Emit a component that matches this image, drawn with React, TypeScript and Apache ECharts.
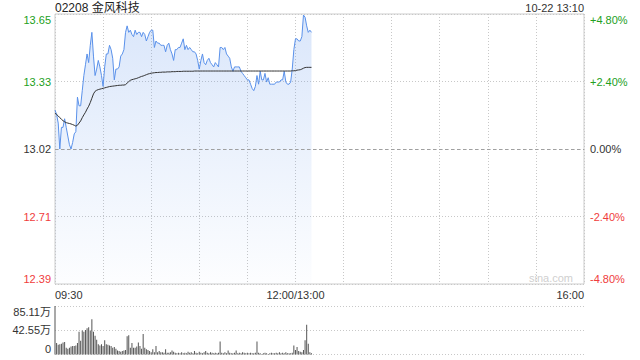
import React, { useEffect, useRef } from 'react';
import * as echarts from 'echarts';

const FONT = '"Liberation Sans", Arial, "Noto Sans CJK SC", sans-serif';

const stockTitle = '02208 金风科技';
const stampText = '10-22 13:10';
const preClose = 13.02;

// one value per minute from 09:30 (index 0) to 13:10 (index 160); 12:00 and 13:00 share index 150
const priceValues = [
  13.20, 13.18, 13.14, 13.02, 13.12, 13.12, 13.16, 13.12, 13.08, 13.04,
  13.02, 13.05, 13.09, 13.10, 13.26, 13.22, 13.22, 13.29, 13.36, 13.41,
  13.46, 13.42, 13.50, 13.56, 13.45, 13.36, 13.39, 13.43, 13.40, 13.36,
  13.31, 13.40, 13.46, 13.46, 13.50, 13.48, 13.44, 13.34, 13.39, 13.39,
  13.40, 13.45, 13.46, 13.48, 13.56, 13.59, 13.56, 13.57, 13.55, 13.54,
  13.57, 13.55, 13.56, 13.56, 13.54, 13.56, 13.55, 13.52, 13.54, 13.56,
  13.57, 13.57, 13.49, 13.52, 13.51, 13.51, 13.50, 13.50, 13.50, 13.47,
  13.50, 13.51, 13.48, 13.46, 13.43, 13.48, 13.48, 13.49, 13.49, 13.51,
  13.53, 13.48, 13.50, 13.48, 13.49, 13.48, 13.47, 13.47, 13.46, 13.43,
  13.39, 13.43, 13.46, 13.42, 13.41, 13.43, 13.44, 13.42, 13.41, 13.40,
  13.42, 13.41, 13.40, 13.49, 13.49, 13.48, 13.49, 13.46, 13.45, 13.44,
  13.40, 13.38, 13.40, 13.40, 13.40, 13.40, 13.38, 13.37, 13.36, 13.35,
  13.34, 13.34, 13.32, 13.30, 13.29, 13.31, 13.36, 13.32, 13.38, 13.34,
  13.34, 13.37, 13.33, 13.35, 13.32, 13.32, 13.32, 13.32, 13.33, 13.33,
  13.33, 13.34, 13.34, 13.38, 13.33, 13.32, 13.32, 13.33, 13.39, 13.48,
  13.53, 13.53, 13.52, 13.52, 13.54, 13.64, 13.63, 13.59, 13.56, 13.57, 13.56,
];

const avgValues = [
  13.185, 13.180, 13.173, 13.165, 13.158, 13.151, 13.146, 13.142, 13.140, 13.138,
  13.136, 13.133, 13.130, 13.126, 13.130, 13.140, 13.150, 13.165, 13.178, 13.190,
  13.205, 13.218, 13.235, 13.255, 13.275, 13.287, 13.292, 13.295, 13.297, 13.299,
  13.301, 13.303, 13.305, 13.307, 13.309, 13.310, 13.311, 13.312, 13.313, 13.314,
  13.315, 13.315, 13.316, 13.316, 13.318, 13.325, 13.332, 13.338, 13.341, 13.343,
  13.345, 13.347, 13.350, 13.353, 13.356, 13.358, 13.361, 13.364, 13.367, 13.369,
  13.371, 13.372, 13.373, 13.374, 13.374, 13.375, 13.375, 13.376, 13.376, 13.376,
  13.377, 13.377, 13.377, 13.378, 13.378, 13.378, 13.379, 13.379, 13.379, 13.379,
  13.380, 13.380, 13.380, 13.380, 13.380, 13.380, 13.380, 13.381, 13.381, 13.381,
  13.381, 13.381, 13.381, 13.381, 13.381, 13.381, 13.381, 13.381, 13.381, 13.381,
  13.381, 13.381, 13.381, 13.381, 13.381, 13.381, 13.381, 13.381, 13.381, 13.381,
  13.381, 13.381, 13.381, 13.381, 13.381, 13.381, 13.381, 13.381, 13.381, 13.381,
  13.381, 13.381, 13.381, 13.381, 13.381, 13.381, 13.381, 13.381, 13.381, 13.381,
  13.381, 13.381, 13.381, 13.381, 13.381, 13.381, 13.381, 13.381, 13.381, 13.381,
  13.381, 13.381, 13.381, 13.381, 13.381, 13.381, 13.381, 13.381, 13.382, 13.382,
  13.383, 13.385, 13.386, 13.387, 13.390, 13.394, 13.397, 13.398, 13.398, 13.398, 13.398,
];

// volume in 万 shares
const volumeValues = [
  85.11, 20, 17, 18, 19, 21, 22, 12, 10, 12,
  14, 15, 15, 16, 20, 40, 24, 42, 40, 43,
  46, 48, 42, 62, 40, 33, 26, 18, 16, 18,
  15, 25, 18, 17, 16, 15, 12, 13, 10, 7,
  6, 5, 6, 7, 8, 32, 34, 12, 20, 12,
  12, 14, 21, 15, 10, 36, 12, 9, 8, 6,
  4, 9, 4, 15, 4, 6, 4, 4, 3, 9,
  3, 3, 4, 7, 5, 3, 2, 3, 2, 4,
  2, 3, 2, 5, 3, 4, 2, 6, 3, 2,
  5, 3, 2, 4, 6, 3, 2, 4, 3, 2,
  3, 2, 3, 23, 3, 2, 4, 2, 7, 3,
  2, 2, 3, 7, 2, 3, 2, 4, 3, 2,
  3, 2, 3, 2, 2, 3, 23, 3, 2, 1,
  2, 3, 2, 1, 2, 3, 2, 2, 3, 2,
  4, 2, 3, 2, 4, 2, 2, 2, 3, 16,
  8, 13, 6, 5, 4, 8, 25, 52, 19, 4, 2,
];

const priceTickLabels = ['12.39', '12.71', '13.02', '13.33', '13.65'];
const pctTickLabels = ['-4.80%', '-2.40%', '0.00%', '+2.40%', '+4.80%'];
const volTickLabels = ['0', '42.55万', '85.11万'];
const timeTickPositions = [0, 150, 330];
const timeTickLabels = ['09:30', '12:00/13:00', '16:00'];

const GREEN = '#22a022';
const RED = '#f03c3c';
const DARK = '#333';

const pct = (p: number) => ((p - preClose) / preClose) * 100;
const pctIndex = (v: number) => Math.round((Number(v) + 4.8) / 2.4);
const labelColor = (v: any) => {
  const n = Number(v);
  if (n > 0.01) return GREEN;
  if (n < -0.01) return RED;
  return DARK;
};

export default function App() {
  const ref = useRef<HTMLDivElement>(null);
  useEffect(() => {
    const chart = echarts.init(ref.current!, null, { renderer: 'svg' });
    const dotted = { color: '#c8c8c8', type: [1, 2] as any, width: 1 };
    const option: any = {
      animation: false,
      textStyle: { fontFamily: FONT },
      grid: [
        { left: 55, right: 56, top: 14, height: 270, show: true, borderColor: '#ccc', borderWidth: 1 },
        { left: 55, right: 56, top: 306, height: 48.5, show: false },
      ],
      xAxis: [
        {
          type: 'value', gridIndex: 0, min: 0, max: 330, interval: 30,
          axisLine: { show: false }, axisTick: { show: false },
          splitLine: { show: true, lineStyle: dotted },
          axisLabel: {
            show: true, margin: 5, fontSize: 11, color: DARK, fontFamily: FONT,
            showMinLabel: true, showMaxLabel: true,
            alignMinLabel: 'left', alignMaxLabel: 'right',
            formatter: (v: number) => {
              const k = timeTickPositions.indexOf(Math.round(v));
              return k >= 0 ? timeTickLabels[k] : '';
            },
          },
        },
        {
          type: 'value', gridIndex: 1, min: 0, max: 330, interval: 30,
          axisLine: { show: false }, axisTick: { show: false },
          splitLine: { show: false }, axisLabel: { show: false },
        },
      ],
      yAxis: [
        {
          type: 'value', gridIndex: 0, min: -4.8, max: 4.8, interval: 2.4, position: 'left',
          axisLine: { show: false }, axisTick: { show: false },
          splitLine: { show: true, lineStyle: dotted },
          axisLabel: {
            margin: 4, fontSize: 11, fontFamily: FONT,
            verticalAlignMinLabel: 'bottom', verticalAlignMaxLabel: 'top',
            formatter: (v: number) => priceTickLabels[pctIndex(v)],
            color: labelColor,
          },
        },
        {
          type: 'value', gridIndex: 0, min: -4.8, max: 4.8, interval: 2.4, position: 'right',
          axisLine: { show: false }, axisTick: { show: false },
          splitLine: { show: false },
          axisLabel: {
            margin: 6, fontSize: 11, fontFamily: FONT,
            verticalAlignMinLabel: 'bottom', verticalAlignMaxLabel: 'top',
            formatter: (v: number) => pctTickLabels[pctIndex(v)],
            color: labelColor,
          },
        },
        {
          type: 'value', gridIndex: 1, min: 0, max: 85.11, interval: 42.555, position: 'left',
          axisLine: { show: false }, axisTick: { show: false },
          splitLine: { show: true, lineStyle: dotted },
          axisLabel: {
            margin: 4, fontSize: 11, fontFamily: FONT, color: DARK,
            verticalAlignMinLabel: 'bottom', verticalAlignMaxLabel: 'top',
            formatter: (v: number) => volTickLabels[Math.round(v / 42.555)],
          },
        },
      ],
      series: [
        {
          type: 'line', xAxisIndex: 0, yAxisIndex: 0,
          data: priceValues.map((p, i) => [i, pct(p)]),
          showSymbol: false, symbol: 'none',
          lineStyle: { color: '#5a91ea', width: 1 },
          itemStyle: { color: '#5a91ea' },
          areaStyle: {
            origin: 'start',
            color: new echarts.graphic.LinearGradient(0, 0, 0, 1, [
              { offset: 0, color: 'rgba(90,145,235,0.32)' },
              { offset: 1, color: 'rgba(90,145,235,0.02)' },
            ]),
          },
          markLine: {
            silent: true, symbol: 'none', label: { show: false },
            lineStyle: { color: '#a0a0a0', type: [3, 3], width: 1 },
            data: [{ yAxis: 0 }],
          },
          z: 3,
        },
        {
          type: 'line', xAxisIndex: 0, yAxisIndex: 0,
          data: avgValues.map((p, i) => [i, pct(p)]),
          showSymbol: false, symbol: 'none',
          lineStyle: { color: '#333', width: 1 },
          itemStyle: { color: '#333' },
          z: 4,
        },
        {
          type: 'bar', xAxisIndex: 1, yAxisIndex: 2,
          data: volumeValues.map((v, i) => [i, v]),
          barWidth: 1,
          itemStyle: { color: '#555' },
        },
      ],
      graphic: [
        {
          type: 'text', x: 55, y: 7.5,
          style: { text: stockTitle, fontSize: 12, fontFamily: FONT, fill: '#222', align: 'left', verticalAlign: 'middle' },
        },
        {
          type: 'text', x: 584, y: 8,
          style: { text: stampText, fontSize: 11, fontFamily: FONT, fill: '#333', align: 'right', verticalAlign: 'middle' },
        },
        {
          type: 'text', x: 573, y: 278,
          style: { text: 'sina.com', fontSize: 11, fontFamily: FONT, fill: '#cfcfcf', align: 'right', verticalAlign: 'middle' },
        },
      ],
    };
    chart.setOption(option);
    return () => chart.dispose();
  }, []);
  return <div ref={ref} style={{ width: 640, height: 360, position: 'absolute', left: 0, top: 0 }} />;
}
